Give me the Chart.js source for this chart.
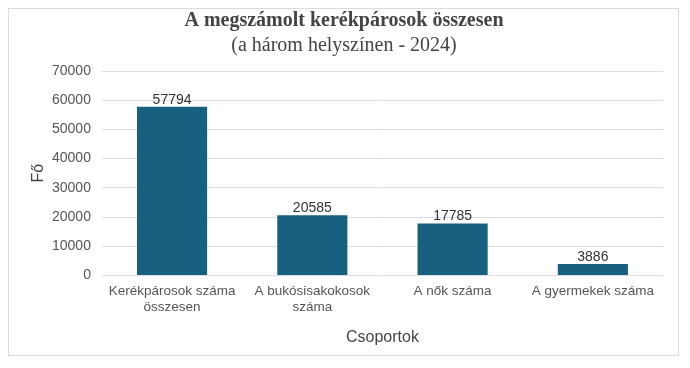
<!DOCTYPE html>
<html>
<head>
<meta charset="utf-8">
<script src="https://cdn.jsdelivr.net/npm/chart.js@4"></script>
<style>
  body { margin: 0; background: #fff; }
  #wrap { position: relative; width: 690px; height: 368px; }
  #frame { position: absolute; left: 8px; top: 8px; width: 671px; height: 348px; border: 1px solid #dcdcdc; box-sizing: border-box; }
  #chart { position: absolute; left: 0; top: 0; }
</style>
</head>
<body>
<div id="wrap">
  <div id="frame"></div>
  <canvas id="chart" width="690" height="368"></canvas>
</div>
<script>
// categories and values
var categories = [
  ["Kerékpárosok száma", "összesen"],
  ["A bukósisakokosok", "száma"],
  "A nők száma",
  "A gyermekek száma"
];
var values = [57794, 20585, 17785, 3886];
var yTicks = [0, 10000, 20000, 30000, 40000, 50000, 60000, 70000];

var sans = "'Liberation Sans', Arial, sans-serif";
var serif = "'Liberation Serif', 'Times New Roman', serif";

// value labels above bars
var barLabels = {
  id: "barLabels",
  afterDatasetsDraw: function (chart) {
    var ctx = chart.ctx;
    var meta = chart.getDatasetMeta(0);
    ctx.save();
    ctx.font = "14px " + sans;
    ctx.fillStyle = "#333";
    ctx.textAlign = "center";
    ctx.textBaseline = "bottom";
    meta.data.forEach(function (bar, i) {
      ctx.fillText(String(values[i]), bar.x, bar.y);
    });
    ctx.restore();
  }
};

new Chart(document.getElementById("chart"), {
  type: "bar",
  data: {
    labels: categories,
    datasets: [{
      data: values,
      backgroundColor: "#18607f",
      barPercentage: 0.5,
      categoryPercentage: 1
    }]
  },
  plugins: [barLabels],
  options: {
    responsive: false,
    animation: false,
    layout: { padding: { left: 25, right: 27, top: 0, bottom: 21 } },
    plugins: {
      legend: { display: false },
      tooltip: { enabled: false },
      title: {
        display: true,
        text: "A megszámolt kerékpárosok összesen",
        color: "#444",
        font: { family: serif, size: 20, weight: "bold" },
        padding: { top: 9, bottom: 1 }
      },
      subtitle: {
        display: true,
        text: "(a három helyszínen - 2024)",
        color: "#444",
        font: { family: serif, size: 20 },
        padding: { top: 0, bottom: 13 }
      }
    },
    scales: {
      x: {
        grid: { display: false, tickLength: 0 },
        border: { display: false },
        ticks: {
          color: "#555",
          font: { family: sans, size: 13.5, lineHeight: 1.2 },
          padding: 8,
          maxRotation: 0,
          autoSkip: false
        },
        title: { display: true, text: "Csoportok", color: "#444", font: { family: sans, size: 16 }, padding: { top: 4, bottom: 0 } }
      },
      y: {
        min: 0,
        max: 70000,
        afterBuildTicks: function (axis) {
          axis.ticks = yTicks.map(function (v) { return { value: v }; });
        },
        grid: { color: "#dedede", tickLength: 0 },
        border: { display: false },
        ticks: {
          color: "#555",
          font: { family: sans, size: 14 },
          padding: 11,
          callback: function (v) { return String(v); }
        },
        title: { display: true, text: "Fő", color: "#444", font: { family: sans, size: 16, lineHeight: 1 }, padding: { top: 6, bottom: -6 } }
      }
    }
  }
});
</script>
</body>
</html>
